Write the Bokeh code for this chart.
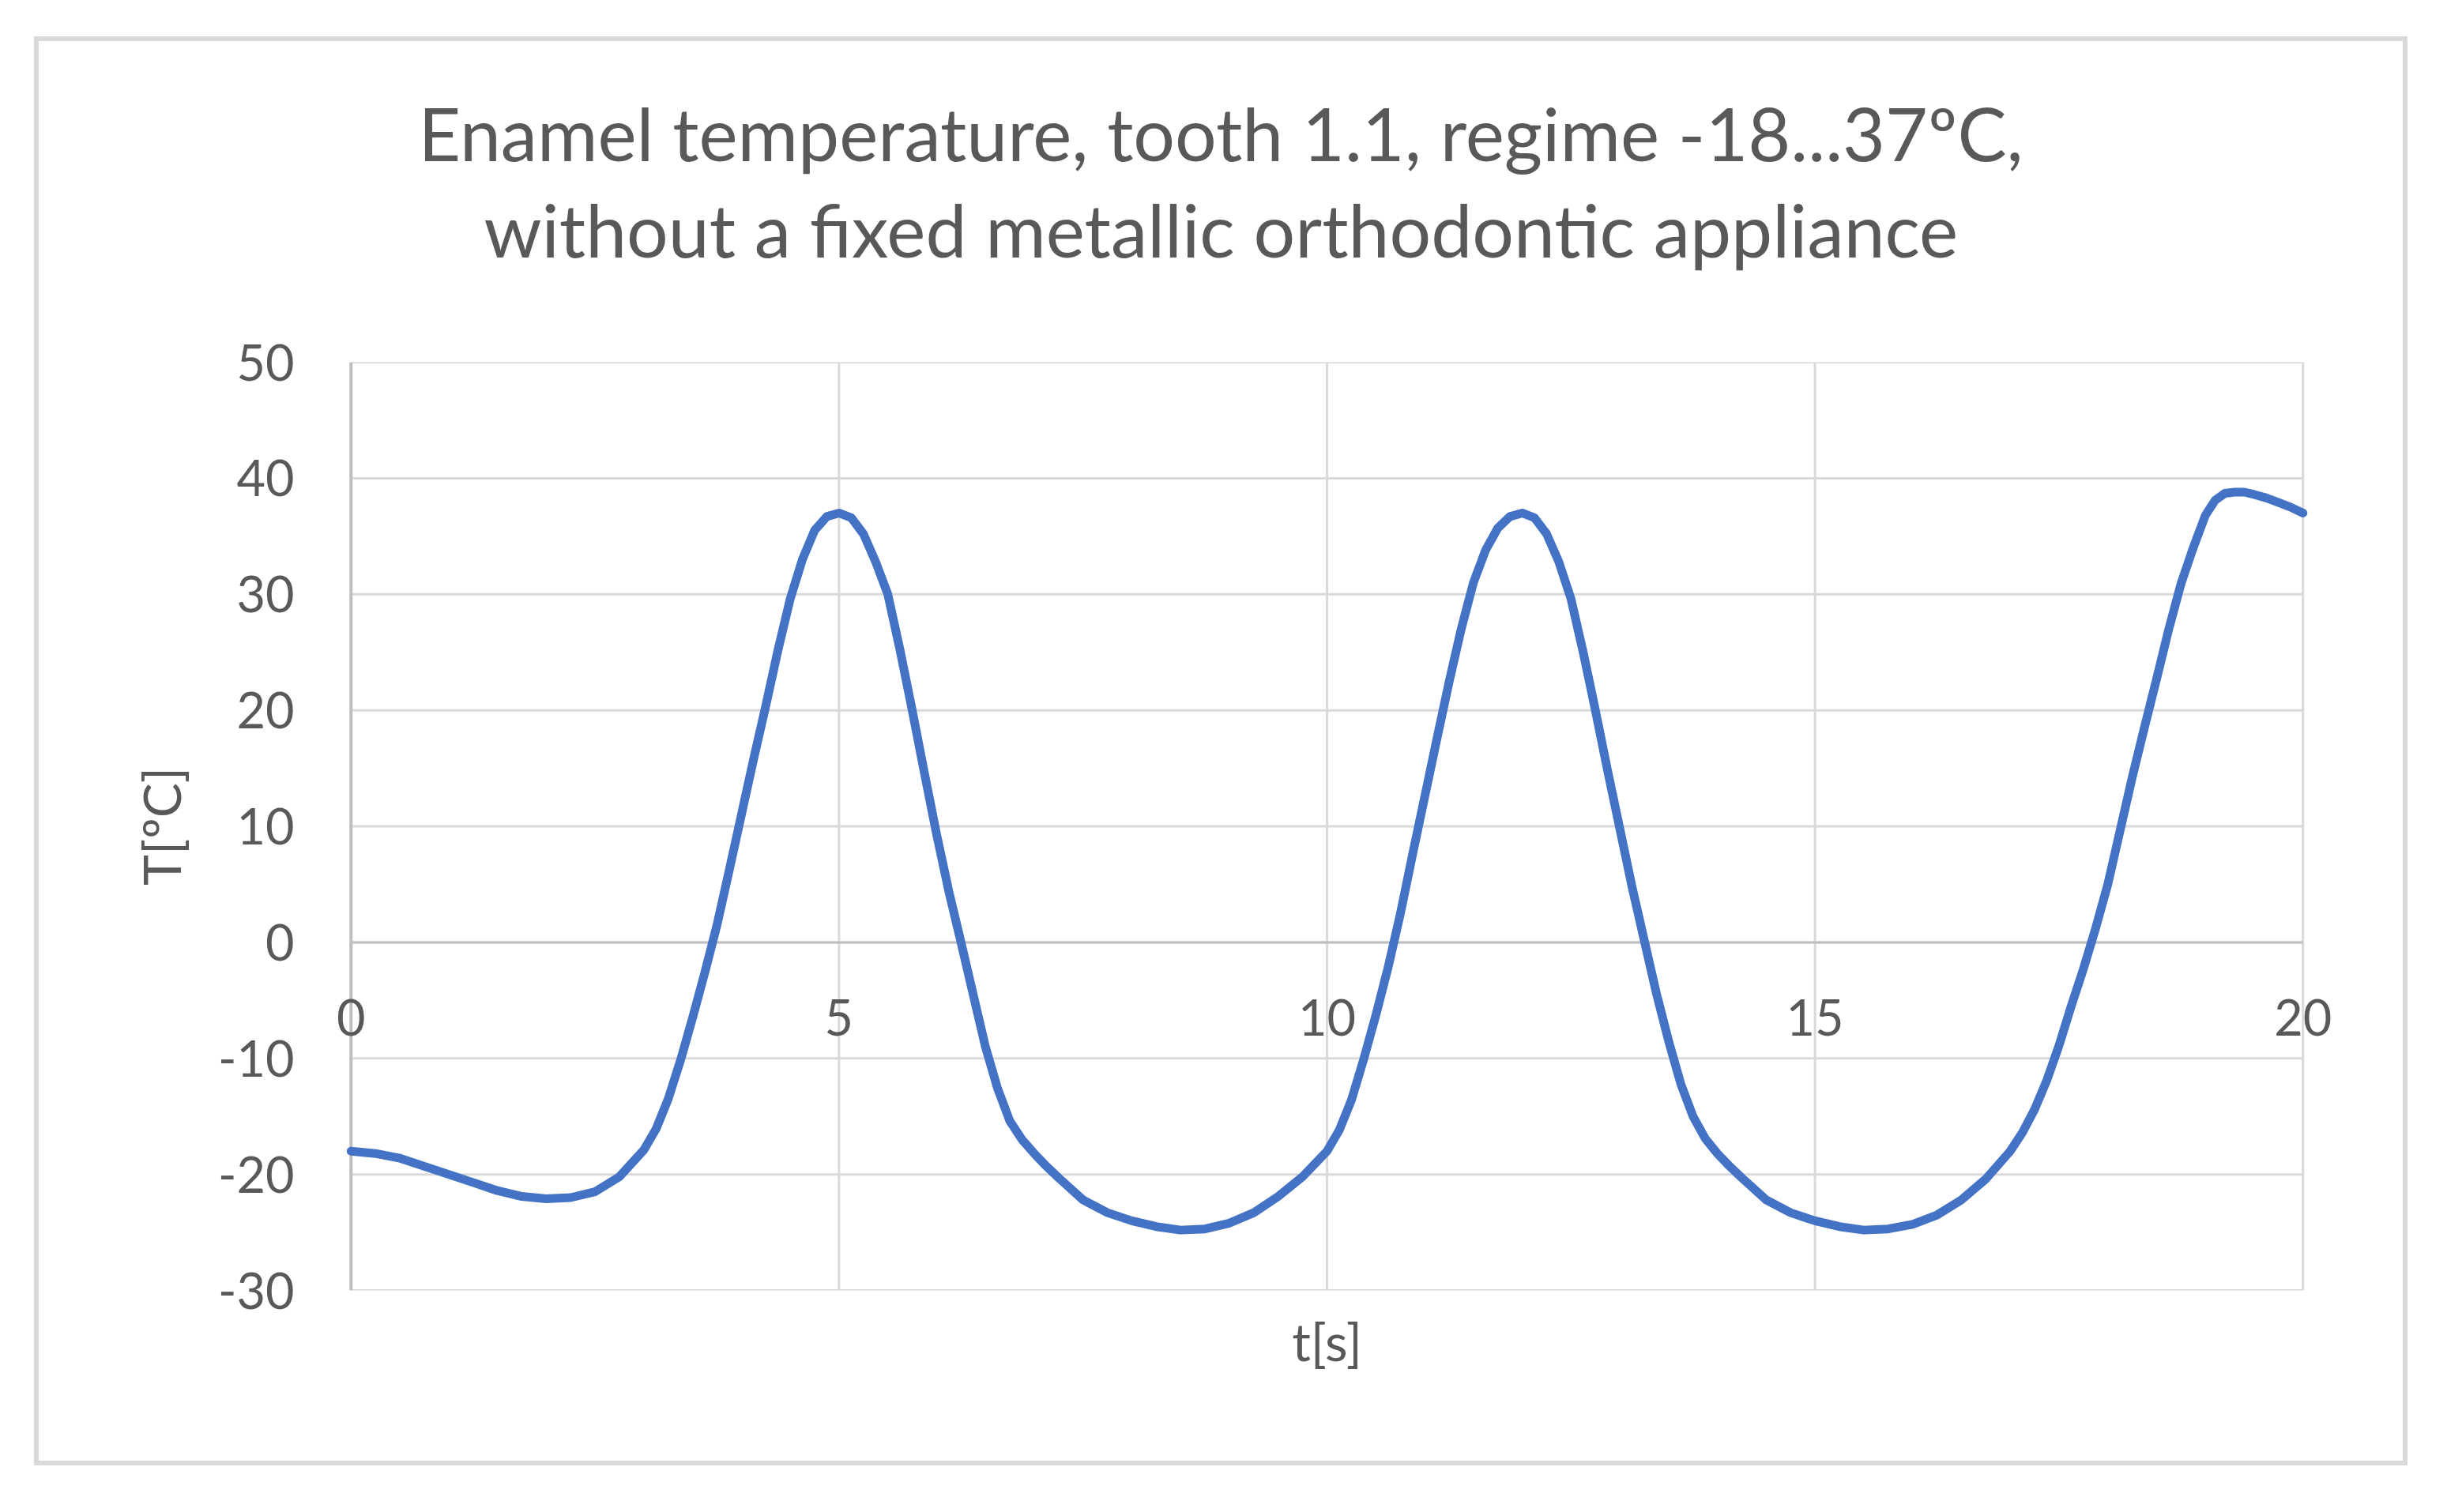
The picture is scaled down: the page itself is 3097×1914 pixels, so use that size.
from bokeh.plotting import figure
from bokeh.models import Range1d, FixedTicker, Title, LabelSet, ColumnDataSource
from bokeh.core.properties import value
from bokeh.layouts import column
from bokeh.embed import file_html
from bokeh.resources import INLINE

# ---- data ----
title_line1 = "Enamel temperature, tooth 1.1, regime -18...37ºC,"
title_line2 = "without a fixed metallic orthodontic appliance"
x_label = "t[s]"
y_label = "T[ºC]"
x_ticks = [0, 5, 10, 15, 20]
x_tick_labels = ["0", "5", "10", "15", "20"]
y_ticks = [-30, -20, -10, 0, 10, 20, 30, 40, 50]
y_tick_labels = ["-30", "-20", "-10", "0", "10", "20", "30", "40", "50"]

t_s = [0, 0.25, 0.5, 0.75, 1.0, 1.25, 1.5, 1.75, 2.0, 2.25, 2.5, 2.75, 3.0,
       3.125, 3.25, 3.375, 3.5, 3.625, 3.75, 3.875, 4.0, 4.125, 4.25, 4.375, 4.5,
       4.625, 4.75, 4.875, 5.0,
       5.125, 5.25, 5.375, 5.5, 5.625, 5.75, 5.875, 6.0, 6.125, 6.25, 6.375, 6.5,
       6.625, 6.75, 6.875, 7.0,
       7.125, 7.25, 7.5, 7.75, 8.0, 8.25, 8.5, 8.75, 9.0, 9.25, 9.5, 9.75, 10.0,
       10.125, 10.25, 10.375, 10.5, 10.625, 10.75, 10.875, 11.0, 11.125, 11.25,
       11.375, 11.5, 11.625, 11.75, 11.875, 12.0,
       12.125, 12.25, 12.375, 12.5, 12.625, 12.75, 12.875, 13.0, 13.125, 13.25,
       13.375, 13.5, 13.625, 13.75, 13.875, 14.0,
       14.125, 14.25, 14.5, 14.75, 15.0, 15.25, 15.5, 15.75, 16.0, 16.25, 16.5,
       16.75, 17.0,
       17.125, 17.25, 17.375, 17.5, 17.625, 17.75, 17.875, 18.0, 18.125, 18.25,
       18.375, 18.5, 18.625, 18.75, 18.875, 19.0, 19.1, 19.2, 19.3, 19.4, 19.5,
       19.625, 19.75, 19.875, 20.0]

temp_c = [-18.0, -18.2, -18.6, -19.3, -20.0, -20.7, -21.4, -21.9, -22.1, -22.0, -21.5, -20.2, -17.9,
          -16.1, -13.5, -10.2, -6.5, -2.6, 1.5, 6.2, 11.0, 15.8, 20.4, 25.2, 29.6,
          33.0, 35.5, 36.7, 37.0,
          36.6, 35.2, 32.8, 30.0, 25.2, 20.0, 14.6, 9.3, 4.4, 0.0, -4.5, -9.0,
          -12.6, -15.4, -17.0, -18.2,
          -19.3, -20.3, -22.2, -23.3, -24.0, -24.5, -24.8, -24.7, -24.2, -23.3, -21.9, -20.2, -18.0,
          -16.2, -13.6, -10.1, -6.3, -2.2, 2.4, 7.5, 12.5, 17.5, 22.4,
          27.0, 31.0, 33.8, 35.7, 36.7, 37.0,
          36.6, 35.2, 32.8, 29.6, 25.0, 20.0, 14.8, 9.8, 4.8, 0.2,
          -4.4, -8.5, -12.2, -15.0, -16.9, -18.2,
          -19.3, -20.3, -22.2, -23.3, -24.0, -24.5, -24.8, -24.7, -24.3, -23.5, -22.2,
          -20.4, -18.0,
          -16.4, -14.4, -11.9, -8.9, -5.5, -2.3, 1.2, 5.0, 9.6, 14.2,
          18.5, 22.7, 27.0, 30.9, 34.0, 36.8, 38.1, 38.7, 38.8, 38.8, 38.6,
          38.3, 37.9, 37.5, 37.0]

# ---- styling ----
FONT = "Lato"
TXT = "#595959"
GRID = "#d9d9d9"
AXIS = "#bfbfbf"
LINE = "#4472C4"
PAD = 0.5   # room either side of the t axis so its end labels are not cut

x0, x1 = x_ticks[0], x_ticks[-1]
y0, y1 = y_ticks[0], y_ticks[-1]

W, H = 2992, 1797
p = figure(width=W, height=H, x_range=Range1d(x0 - PAD, x1 + PAD), y_range=Range1d(y0, y1),
           output_backend="svg", toolbar_location=None,
           min_border_left=333, min_border_right=65,
           min_border_top=406, min_border_bottom=216)
p.title.visible = False
p.outline_line_color = None
p.background_fill_color = "white"
p.border_fill_color = "white"
p.xgrid.visible = False
p.ygrid.visible = False

# gridlines (Excel-style, limited to the data area)
p.segment(x0=[x0] * len(y_ticks), x1=[x1] * len(y_ticks), y0=y_ticks, y1=y_ticks,
          line_color=GRID, line_width=3)
p.segment(x0=x_ticks[1:], x1=x_ticks[1:], y0=[y0] * (len(x_ticks) - 1),
          y1=[y1] * (len(x_ticks) - 1), line_color=GRID, line_width=3)
# axis lines: vertical at t = 0, horizontal crossing at T = 0
p.segment(x0=[x0], x1=[x0], y0=[y0], y1=[y1], line_color=AXIS, line_width=4)
p.segment(x0=[x0], x1=[x1], y0=[0], y1=[0], line_color=AXIS, line_width=3)

# tick labels of the horizontal axis, hung under the T = 0 line
xlab_src = ColumnDataSource(dict(x=x_ticks, y=[0] * len(x_ticks), text=x_tick_labels))
p.add_layout(LabelSet(x="x", y="y", text="text", source=xlab_src,
                      text_align="center", text_baseline="alphabetic",
                      y_offset=-118, text_font=value(FONT),
                      text_font_size=value("63px"), text_color=value(TXT)))

xa = p.xaxis[0]
xa.ticker = FixedTicker(ticks=[])
xa.axis_line_color = None
xa.major_tick_line_color = None
xa.minor_tick_line_color = None
xa.major_label_text_font_size = "0px"
xa.axis_label = x_label
xa.axis_label_standoff = 24
xa.axis_label_text_font = FONT
xa.axis_label_text_font_size = "66px"
xa.axis_label_text_font_style = "normal"
xa.axis_label_text_color = TXT

ya = p.yaxis[0]
ya.ticker = FixedTicker(ticks=y_ticks)
ya.major_label_overrides = {v: s for v, s in zip(y_ticks, y_tick_labels)}
ya.axis_line_color = None
ya.major_tick_line_color = None
ya.minor_tick_line_color = None
ya.major_tick_out = 0
ya.major_tick_in = 0
ya.major_label_standoff = 10
ya.major_label_text_font = FONT
ya.major_label_text_font_size = "63px"
ya.major_label_text_color = TXT
ya.axis_label = y_label
ya.axis_label_standoff = 30
ya.axis_label_text_font = FONT
ya.axis_label_text_font_size = "66px"
ya.axis_label_text_font_style = "normal"
ya.axis_label_text_color = TXT

# chart title, centred over the whole chart area (not just the plot frame)
p.add_layout(Title(text=title_line2, align="left", text_font=FONT,
                   text_font_size="93px", text_font_style="normal",
                   text_color=TXT, standoff=226, offset=230), "above")
p.add_layout(Title(text=title_line1, align="left", text_font=FONT,
                   text_font_size="93px", text_font_style="normal",
                   text_color=TXT, standoff=-210, offset=147), "above")

p.line(t_s, temp_c, line_color=LINE, line_width=11, line_join="round", line_cap="round")

layout = column(p, margin=(46, 0, 0, 43),
                styles={"border": "6px solid #d9d9d9"})

open("out.html", "w").write(file_html(layout, INLINE))
